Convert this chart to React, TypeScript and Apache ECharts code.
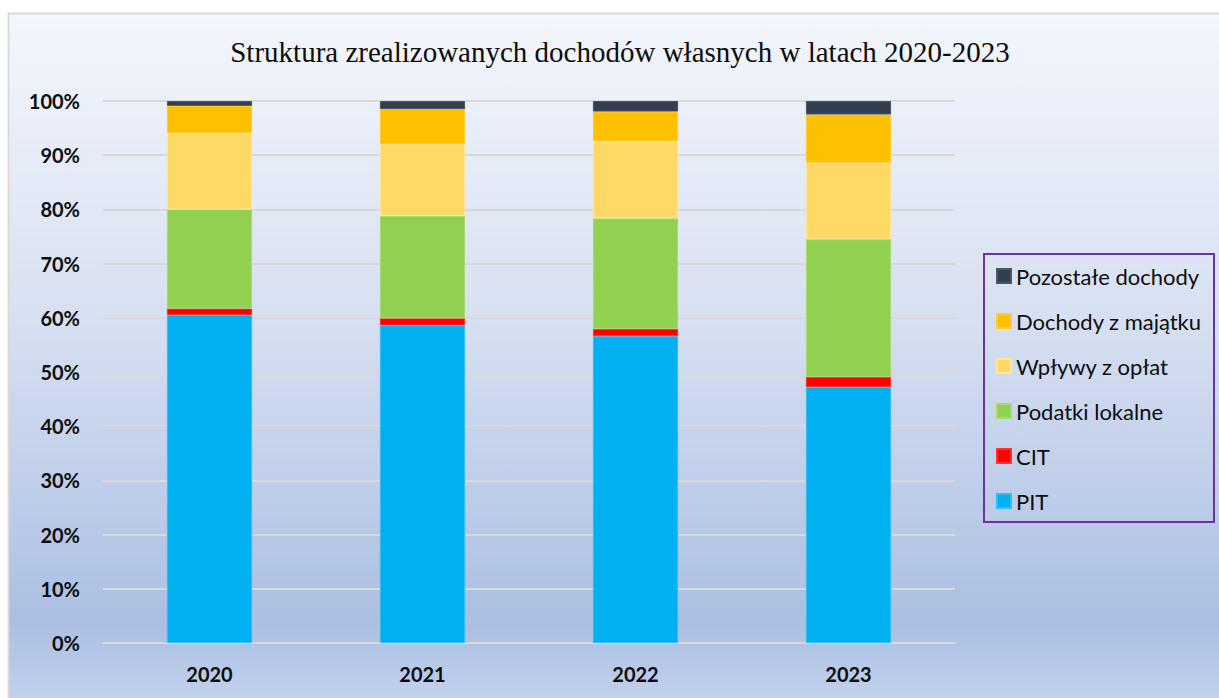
import React, { useEffect, useRef } from "react";
import * as echarts from "echarts";

const years = ["2020", "2021", "2022", "2023"];
const pit = [60.5, 58.6, 56.6, 47.2];
const cit = [1.2, 1.3, 1.35, 1.9];
const podatki = [18.3, 18.9, 20.4, 25.4];
const wplywy = [14.1, 13.2, 14.2, 14.1];
const majatek = [5.0, 6.5, 5.5, 8.9];
const pozostale = [0.9, 1.5, 1.95, 2.5];
const yTicks = [0, 10, 20, 30, 40, 50, 60, 70, 80, 90, 100];

const seriesDefs = [
  { name: "PIT", data: pit, color: "#00b0f0", border: "#33bff3" },
  { name: "CIT", data: cit, color: "#ff0000", border: "#ff3333" },
  { name: "Podatki lokalne", data: podatki, color: "#92d050", border: "#a8da73" },
  { name: "Wpływy z opłat", data: wplywy, color: "#ffd966", border: "#ffe699" },
  { name: "Dochody z majątku", data: majatek, color: "#ffc000", border: "#ffcd33" },
  { name: "Pozostałe dochody", data: pozostale, color: "#333f50", border: "#4a5568" },
];

export default function App() {
  const ref = useRef<HTMLDivElement>(null);
  useEffect(() => {
    if (!ref.current) return;
    const chart = echarts.init(ref.current, null, { renderer: "svg" });
    chart.setOption({
      animation: false,
      backgroundColor: "#ffffff",
      graphic: [
        {
          type: "rect",
          z: -10,
          silent: true,
          shape: { x: 8.5, y: 13.5, width: 1215, height: 700 },
          style: {
            fill: new echarts.graphic.LinearGradient(0, 0, 0, 1, [
              { offset: 0, color: "#f3f6fc" },
              { offset: 0.45, color: "#d6dff1" },
              { offset: 0.87, color: "#abbfe3" },
              { offset: 1, color: "#c6d4ee" },
            ]),
            stroke: "#d9d9d9",
            lineWidth: 2,
          },
        },
        {
          type: "text",
          x: 620,
          y: 52,
          style: {
            text: "Struktura zrealizowanych dochodów własnych w latach 2020-2023",
            font: "29px 'Liberation Serif', 'Times New Roman', serif",
            fill: "#0d0d0d",
            align: "center",
            verticalAlign: "middle",
          },
        },
        {
          type: "rect",
          silent: true,
          shape: { x: 984, y: 254, width: 230, height: 268 },
          style: { fill: "none", stroke: "#7030a0", lineWidth: 2 },
        },
      ],
      grid: { left: 103, right: 264, top: 101, bottom: 55 },
      legend: {
        orient: "vertical",
        left: 996,
        top: 265,
        padding: 0,
        itemWidth: 14,
        itemHeight: 14,
        itemGap: 23,
        icon: "rect",
        data: ["Pozostałe dochody", "Dochody z majątku", "Wpływy z opłat", "Podatki lokalne", "CIT", "PIT"],
        textStyle: { fontFamily: "Lato", fontSize: 22, color: "#0d0d0d", lineHeight: 22 },
      },
      xAxis: {
        type: "category",
        data: years,
        axisLine: { lineStyle: { color: "#d9d9d9", width: 2 } },
        axisTick: { show: false },
        axisLabel: { fontFamily: "Lato", fontWeight: "bold", fontSize: 20, color: "#0d0d0d", margin: 21 },
      },
      yAxis: {
        type: "value",
        min: yTicks[0],
        max: yTicks[yTicks.length - 1],
        interval: 10,
        axisLine: { show: false },
        axisTick: { show: false },
        splitLine: { lineStyle: { color: "#d9d9d9", width: 2 } },
        axisLabel: { formatter: "{value}%", fontFamily: "Lato", fontWeight: "bold", fontSize: 20, color: "#0d0d0d", margin: 23 },
      },
      series: seriesDefs.map((s) => ({
        name: s.name,
        type: "bar",
        stack: "total",
        barWidth: "40%",
        data: s.data,
        itemStyle: { color: s.color, borderColor: s.border, borderWidth: 1 },
      })),
    });
    return () => chart.dispose();
  }, []);
  return <div ref={ref} style={{ position: "absolute", left: 0, top: 0, width: 1219, height: 698 }} />;
}
